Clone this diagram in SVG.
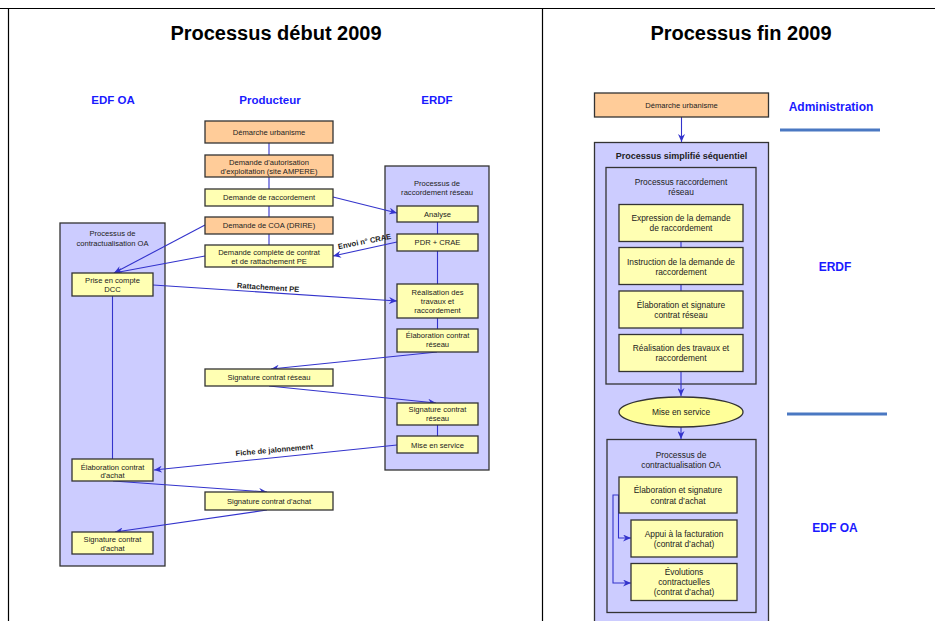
<svg xmlns="http://www.w3.org/2000/svg" width="935" height="621" viewBox="0 0 935 621">
<defs>
<marker id="arr" markerUnits="userSpaceOnUse" markerWidth="9" markerHeight="7" refX="8" refY="3.5" orient="auto">
<path d="M0,0 L8,3.5 L0,7 L2.5,3.5 z" fill="#3333cc"/>
</marker>
<style>
text{font-family:"Liberation Sans",Arial,sans-serif;}
.title{font-size:20px;font-weight:bold;fill:#000;text-anchor:middle;}
.hdr{font-size:11.5px;font-weight:bold;fill:#1a1aff;text-anchor:middle;}
.hdr2{font-size:12px;font-weight:bold;fill:#1a1aff;text-anchor:middle;}
.orange{fill:#ffcc99;stroke:#333;stroke-width:1.3;}
.yellow{fill:#ffffb3;stroke:#333;stroke-width:1.3;}
.cont{fill:#ccccff;stroke:#333;stroke-width:1.3;}
.t{font-size:7.6px;fill:#222;text-anchor:middle;}
.t2{font-size:8.4px;fill:#222;text-anchor:middle;}
.lbl{font-size:7.6px;font-weight:bold;fill:#222;text-anchor:middle;}
.bt{font-size:9px;font-weight:bold;fill:#222;text-anchor:middle;}
.ln{fill:none;stroke:#3333cc;stroke-width:1.1;}
.ar{fill:none;stroke:#3333cc;stroke-width:1.1;marker-end:url(#arr);}
.sep{stroke:#4a78c2;stroke-width:3.2;}
.frame{stroke:#000;stroke-width:1.2;fill:none;}
</style>
</defs>
<rect width="935" height="621" fill="#fff"/>
<g id="frame">
<path class="frame" d="M0,8.5 H935 M8.5,8 V621 M542.5,8 V621"/>
</g>
<g id="titles">
<text class="title" x="276" y="40">Processus début 2009</text>
<text class="title" x="741" y="40">Processus fin 2009</text>
<text class="hdr" x="113" y="104">EDF OA</text>
<text class="hdr" x="270" y="104">Producteur</text>
<text class="hdr" x="437" y="104">ERDF</text>
<text class="hdr2" x="831" y="111">Administration</text>
<line class="sep" x1="780" y1="130" x2="880" y2="130"/>
<text class="hdr2" x="835" y="271">ERDF</text>
<line class="sep" x1="787" y1="414" x2="887" y2="414"/>
<text class="hdr2" x="835" y="532">EDF OA</text>
</g>

<!-- containers -->
<g id="erdf-container">
<rect class="cont" x="385" y="166" width="104" height="304"/>
<text class="t" x="437" y="185.7">Processus de</text>
<text class="t" x="437" y="194.7">raccordement réseau</text>
</g>
<g id="oa-container">
<rect class="cont" x="60" y="223" width="105" height="343"/>
<text class="t" x="112.5" y="236">Processus de</text>
<text class="t" x="112.5" y="245.5">contractualisation OA</text>
</g>
<g id="r-outer">
<rect class="cont" x="594.5" y="142.5" width="174" height="490"/>
<text class="bt" x="681.5" y="158.5">Processus simplifié séquentiel</text>
</g>
<g id="r-inner1">
<rect class="cont" x="606" y="167.5" width="150" height="216.5"/>
<text class="t2" x="681" y="184.5">Processus raccordement</text>
<text class="t2" x="681" y="195">réseau</text>
</g>
<g id="r-inner2">
<rect class="cont" x="607" y="439.5" width="149" height="173"/>
<text class="t2" x="681" y="458">Processus de</text>
<text class="t2" x="681" y="468">contractualisation OA</text>
</g>

<!-- connectors -->
<g id="connectors">
<path class="ln" d="M269,143 V155 M269,177 V189 M269,206 V217 M269,234 V245"/>
<path class="ln" d="M437.5,222 V234 M437.5,251 V284 M437.5,318 V329 M437.5,425 V436"/>
<path class="ln" d="M112.5,296 V459"/>
<path class="ar" d="M205,225 L114,273"/>
<path class="ar" d="M205,256 L114,273"/>
<path class="ar" d="M333,197 L397,213"/>
<path class="ar" d="M397,242 L333,256"/>
<path class="ar" d="M153,285 L397,301"/>
<path class="ar" d="M437,352 L271,369"/>
<path class="ar" d="M269,386 L436,403"/>
<path class="ar" d="M397,445 L154,470"/>
<path class="ar" d="M113,481 L267,492"/>
<path class="ar" d="M267,510 L115,532"/>
<text class="lbl" transform="translate(365,244) rotate(-11)">Envoi n° CRAE</text>
<text class="lbl" transform="translate(268,290) rotate(3.9)">Rattachement PE</text>
<text class="lbl" transform="translate(274.5,452.5) rotate(-5)">Fiche de jalonnement</text>
<path class="ar" d="M681.5,117 V142"/>
<path class="ln" d="M681,241 V247 M681,284 V291 M681,328 V334"/>
<path class="ar" d="M681,372 V396"/>
<path class="ar" d="M681,427 V439"/>
<path class="ar" d="M619,495 H613 V583 H631"/>
<path class="ar" d="M618.5,495 V538 H631"/>
</g>

<!-- producer nodes -->
<g id="p1"><rect class="orange" x="205" y="121" width="128" height="22"/><text class="t" x="269" y="134.7">Démarche urbanisme</text></g>
<g id="p2"><rect class="orange" x="205" y="155" width="128" height="22"/><text class="t" x="269" y="165">Demande d'autorisation</text><text class="t" x="269" y="174.3">d'exploitation (site AMPERE)</text></g>
<g id="p3"><rect class="yellow" x="205" y="189" width="128" height="17"/><text class="t" x="269" y="200">Demande de raccordement</text></g>
<g id="p4"><rect class="orange" x="205" y="217" width="128" height="17"/><text class="t" x="269" y="228">Demande de COA (DRIRE)</text></g>
<g id="p5"><rect class="yellow" x="205" y="245" width="128" height="22"/><text class="t" x="269" y="255.4">Demande complète de contrat</text><text class="t" x="269" y="264.4">et de rattachement PE</text></g>
<g id="p6"><rect class="yellow" x="205" y="369" width="128" height="17"/><text class="t" x="269" y="380">Signature contrat réseau</text></g>
<g id="p7"><rect class="yellow" x="205" y="492" width="128" height="18"/><text class="t" x="269" y="503.7">Signature contrat d'achat</text></g>

<!-- ERDF nodes -->
<g id="e1"><rect class="yellow" x="397" y="206" width="81" height="16"/><text class="t" x="437.5" y="217.3">Analyse</text></g>
<g id="e2"><rect class="yellow" x="397" y="234" width="81" height="17"/><text class="t" x="437.5" y="245">PDR + CRAE</text></g>
<g id="e3"><rect class="yellow" x="397" y="284" width="81" height="34"/><text class="t" x="437.5" y="295.3">Réalisation des</text><text class="t" x="437.5" y="304">travaux et</text><text class="t" x="437.5" y="312.7">raccordement</text></g>
<g id="e4"><rect class="yellow" x="397" y="329" width="81" height="23"/><text class="t" x="437.5" y="338">Élaboration contrat</text><text class="t" x="437.5" y="347">réseau</text></g>
<g id="e5"><rect class="yellow" x="397" y="403" width="81" height="22"/><text class="t" x="437.5" y="412">Signature contrat</text><text class="t" x="437.5" y="421">réseau</text></g>
<g id="e6"><rect class="yellow" x="397" y="436" width="81" height="17"/><text class="t" x="437.5" y="448">Mise en service</text></g>

<!-- EDF OA nodes -->
<g id="o1"><rect class="yellow" x="72" y="273" width="81" height="23"/><text class="t" x="112.5" y="283">Prise en compte</text><text class="t" x="112.5" y="292">DCC</text></g>
<g id="o2"><rect class="yellow" x="72" y="459" width="81" height="22"/><text class="t" x="112.5" y="469.5">Élaboration contrat</text><text class="t" x="112.5" y="478">d'achat</text></g>
<g id="o3"><rect class="yellow" x="72" y="532" width="81" height="22"/><text class="t" x="112.5" y="542">Signature contrat</text><text class="t" x="112.5" y="551">d'achat</text></g>

<!-- right panel nodes -->
<g id="r0"><rect class="orange" x="594.5" y="93" width="174" height="24"/><text class="t" x="681.5" y="107.7">Démarche urbanisme</text></g>
<g id="r1"><rect class="yellow" x="619" y="204.5" width="124" height="37"/><text class="t2" x="681" y="221.3">Expression de la demande</text><text class="t2" x="681" y="231.3">de raccordement</text></g>
<g id="r2"><rect class="yellow" x="619" y="247.5" width="124" height="37"/><text class="t2" x="681" y="264.5">Instruction de la demande de</text><text class="t2" x="681" y="274.5">raccordement</text></g>
<g id="r3"><rect class="yellow" x="619" y="291" width="124" height="37"/><text class="t2" x="681" y="308">Élaboration et signature</text><text class="t2" x="681" y="318">contrat réseau</text></g>
<g id="r4"><rect class="yellow" x="619" y="334.5" width="124" height="37"/><text class="t2" x="681" y="351.3">Réalisation des travaux et</text><text class="t2" x="681" y="361.3">raccordement</text></g>
<g id="r5"><ellipse cx="681" cy="412" rx="62" ry="15" fill="#ffff99" stroke="#333" stroke-width="1.3"/><text class="t2" x="681" y="415">Mise en service</text></g>
<g id="r6"><rect class="yellow" x="619" y="477" width="118" height="36"/><text class="t2" x="678" y="493">Élaboration et signature</text><text class="t2" x="678" y="503.5">contrat d’achat</text></g>
<g id="r7"><rect class="yellow" x="631" y="520" width="106" height="37"/><text class="t2" x="684" y="537">Appui à la facturation</text><text class="t2" x="684" y="547.3">(contrat d’achat)</text></g>
<g id="r8"><rect class="yellow" x="631" y="563.5" width="106" height="37"/><text class="t2" x="684" y="575">Évolutions</text><text class="t2" x="684" y="585">contractuelles</text><text class="t2" x="684" y="595">(contrat d’achat)</text></g>
</svg>
